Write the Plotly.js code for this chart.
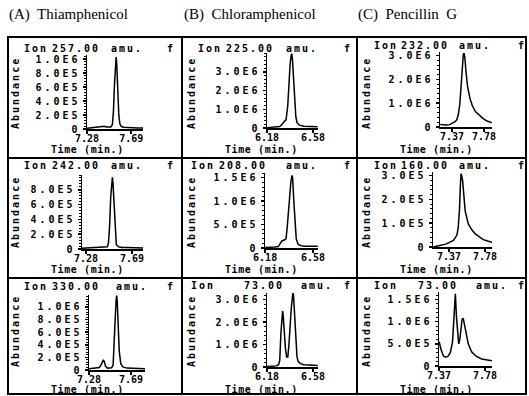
<!DOCTYPE html>
<html><head><meta charset="utf-8">
<script src="https://cdn.plot.ly/plotly-3.0.1.min.js"></script>
<style>
html,body{margin:0;padding:0;background:#fff;}
#chart{width:529px;height:396px;}
text[style*="DejaVu Sans Mono"]{letter-spacing:2px;}
text[style*="monospace"]{letter-spacing:0.6px;}
g[class^="y"][class$="tick"] > text{letter-spacing:3px;}
g[class^="x"][class$="tick"] > text{letter-spacing:0px;}
</style></head><body><div id="chart"></div>
<script>
// ---------- DATA ----------
const headerText = ["(A)  Thiamphenicol", "(B)  Chloramphenicol", "(C)  Pencillin  G"];
const ionMass = ["257.00","225.00","232.00","242.00","208.00","160.00","330.00","73.00","73.00"];
const xTickVals = [[7.28,7.69],[6.18,6.58],[7.37,7.78]];
const xTickText = [["7.28","7.69"],["6.18","6.58"],["7.37","7.78"]];

const yTicksA = [0,2e5,4e5,6e5,8e5,1e6];
const yTextA  = ["0","2.0E5","4.0E5","6.0E5","8.0E5","1.0E6"];
const yTicksA2 = [0,2e5,4e5,6e5,8e5];
const yTextA2  = ["0","2.0E5","4.0E5","6.0E5","8.0E5"];
const yTicksM = [0,1e6,2e6,3e6];
const yTextM  = ["0","1.0E6","2.0E6","3.0E6"];
const yTicksH = [0,5e5,1e6,1.5e6];
const yTextH  = ["0","5.0E5","1.0E6","1.5E6"];
const yTicksC2 = [0,1e5,2e5,3e5];
const yTextC2  = ["0","1.0E5","2.0E5","3.0E5"];

// Thiamphenicol, ion 257
const tA1 = [7.28,7.32,7.36,7.40,7.44,7.46,7.48,7.50,7.515,7.525,7.535,7.545,7.550,7.555,7.565,7.575,7.585,7.60,7.62,7.66,7.70,7.75,7.80];
const aA1 = [1e4,1.5e4,2e4,2.5e4,4e4,3e4,2.5e4,3e4,6e4,2.5e5,6.5e5,9.8e5,1.03e6,9.5e5,5.5e5,2.0e5,7e4,3.5e4,2.5e4,2e4,2e4,1.5e4,1.5e4];
// Chloramphenicol, ion 225
const tB1 = [6.18,6.22,6.26,6.29,6.31,6.33,6.345,6.36,6.37,6.38,6.39,6.395,6.40,6.41,6.42,6.43,6.44,6.46,6.50,6.55,6.60,6.62];
const aB1 = [2e4,3e4,4e4,8e4,2e5,3.5e5,4.5e5,1.2e6,2.4e6,3.4e6,3.9e6,3.95e6,3.7e6,2.6e6,1.4e6,6e5,3e5,1.5e5,1e5,8e4,7e4,7e4];
// Pencillin G, ion 232
const tC1 = [7.22,7.26,7.30,7.34,7.38,7.41,7.43,7.45,7.47,7.49,7.505,7.515,7.525,7.535,7.55,7.57,7.60,7.63,7.67,7.72,7.77,7.82,7.88];
const aC1 = [1e5,8e4,8e4,1e5,1.5e5,2.2e5,3e5,5e5,9.5e5,1.9e6,2.7e6,3.05e6,3.1e6,2.9e6,2.3e6,1.7e6,1.2e6,9e5,6.5e5,4.8e5,3.5e5,2.5e5,1.8e5];
// Thiamphenicol, ion 242
const tA2 = [7.244,7.30,7.36,7.42,7.45,7.47,7.48,7.49,7.50,7.51,7.515,7.52,7.53,7.54,7.55,7.57,7.60,7.65,7.70,7.75,7.788];
const aA2 = [1e4,1.5e4,1.5e4,2e4,2e4,3e4,8e4,3.0e5,7.0e5,9.5e5,9.7e5,9.0e5,5.5e5,2.0e5,6e4,3e4,2e4,2e4,1.5e4,1.5e4,1.5e4];
// Chloramphenicol, ion 208
const tB2 = [6.18,6.22,6.26,6.29,6.30,6.32,6.34,6.355,6.365,6.375,6.385,6.395,6.405,6.41,6.42,6.43,6.44,6.455,6.48,6.52,6.56,6.62];
const aB2 = [1e4,1e4,2e4,3e4,8e4,1.5e5,1.7e5,2e5,4.5e5,8e5,1.1e6,1.4e6,1.55e6,1.5e6,1.0e6,5e5,2e5,8e4,5e4,4e4,4e4,4e4];
// Pencillin G, ion 160
const tC2 = [7.19,7.24,7.29,7.34,7.38,7.42,7.44,7.46,7.475,7.49,7.50,7.508,7.515,7.525,7.54,7.555,7.59,7.63,7.67,7.72,7.76,7.81,7.86];
const aC2 = [0,3e3,8e3,1.3e4,2e4,2.8e4,3.8e4,5e4,8e4,1.6e5,2.6e5,3.08e5,3.0e5,2.8e5,2.0e5,1.5e5,9.7e4,7.2e4,5.5e4,4e4,3.1e4,2.5e4,2e4];
// Thiamphenicol, ion 330
const tA3 = [7.28,7.32,7.36,7.38,7.40,7.41,7.42,7.43,7.44,7.46,7.48,7.50,7.515,7.525,7.535,7.545,7.55,7.555,7.565,7.575,7.59,7.61,7.65,7.70,7.75,7.80,7.827];
const aA3 = [2e4,2.5e4,3e4,4e4,9e4,1.4e5,1.6e5,1.3e5,6e4,3e4,3e4,3.5e4,8e4,3.5e5,8.0e5,1.12e6,1.18e6,1.1e6,7.0e5,3.0e5,1.0e5,5e4,3e4,2.5e4,2e4,2e4,2e4];
// Chloramphenicol, ion 73
const tB3 = [6.18,6.22,6.26,6.28,6.29,6.30,6.31,6.315,6.32,6.33,6.34,6.35,6.36,6.37,6.38,6.39,6.40,6.405,6.41,6.42,6.43,6.44,6.45,6.47,6.50,6.55,6.60,6.62];
const aB3 = [2e4,3e4,5e4,1e5,3e5,1.5e6,2.4e6,2.5e6,2.3e6,1.5e6,8e5,4.5e5,4.5e5,1.0e6,2.0e6,2.6e6,3.1e6,3.3e6,3.2e6,2.2e6,1.0e6,4.5e5,2.5e5,1.5e5,1e5,8e4,7e4,7e4];
// Pencillin G, ion 73
const tC3 = [7.37,7.39,7.41,7.43,7.45,7.47,7.49,7.50,7.51,7.515,7.525,7.535,7.545,7.555,7.565,7.575,7.585,7.595,7.61,7.63,7.66,7.70,7.75,7.80,7.84];
const aC3 = [5.5e5,3.5e5,2.2e5,2e5,2.2e5,3e5,5.5e5,1.0e6,1.55e6,1.63e6,1.1e6,6.5e5,5e5,6e5,8.5e5,1.05e6,1.08e6,9.5e5,7e5,5e5,3.2e5,2.2e5,1.6e5,1.3e5,1.2e5];

// ---------- LAYOUT GEOMETRY (pixels) ----------
const W = 529, H = 396;
const panels = [
 {t:tA1,a:aA1,yt:yTicksA, ytx:yTextA, x0:87, x1:143,top:55, bot:129,xr:[7.279,7.80], yr:[0,1.06e6],minor:4e4,  ion:[23,51,110,166], iy:48},
 {t:tB1,a:aB1,yt:yTicksM, ytx:yTextM, x0:267,x1:318,top:53, bot:128,xr:[6.179,6.623],yr:[0,4.0e6], minor:2e5,  ion:[197,225,285,343],iy:48},
 {t:tC1,a:aC1,yt:yTicksM, ytx:yTextM, x0:440,x1:492,top:52, bot:127,xr:[7.216,7.883],yr:[0,3.15e6],minor:2e5,  ion:[373,400,458,517],iy:46},
 {t:tA2,a:aA2,yt:yTicksA2,ytx:yTextA2,x0:82, x1:143,top:175,bot:249,xr:[7.244,7.788],yr:[0,1.0e6], minor:4e4,  ion:[23,51,110,166], iy:166},
 {t:tB2,a:aB2,yt:yTicksH, ytx:yTextH, x0:265,x1:318,top:173,bot:248,xr:[6.179,6.622],yr:[0,1.6e6], minor:1e5,  ion:[190,218,285,343],iy:165},
 {t:tC2,a:aC2,yt:yTicksC2,ytx:yTextC2,x0:433,x1:492,top:172,bot:247,xr:[7.188,7.86], yr:[0,3.15e5],minor:2e4,  ion:[373,400,458,517],iy:165},
 {t:tA3,a:aA3,yt:yTicksA, ytx:yTextA, x0:89, x1:145,top:295,bot:370,xr:[7.279,7.827],yr:[0,1.19e6],minor:4e4,  ion:[23,51,115,166], iy:286},
 {t:tB3,a:aB3,yt:yTicksM, ytx:yTextM, x0:267,x1:318,top:293,bot:367,xr:[6.179,6.623],yr:[0,3.3e6], minor:2e5,  ion:[190,243,300,343],iy:285},
 {t:tC3,a:aC3,yt:yTicksH, ytx:yTextH, x0:439,x1:492,top:292,bot:366,xr:[7.369,7.842],yr:[0,1.67e6],minor:1e5,  ion:[373,417,475,517],iy:285}
];
const colLeft = [8,183,357];
const abX = [15,191,366];
const rowAbY = [93,212,331];
const timeX = [87,261,436];
const rowTimeY = [149,269,389];
const frame = {l:8,r:526,t:37,b:394,v:[182,357],h:[158,278]};

const px = x => x / W;
const py = y => 1 - y / H;
const monoFont = {family:'DejaVu Sans Mono', size:10, color:'#000', weight:'bold'};
const yTickFont = {family:'DejaVu Sans Mono', size:10, color:'#000', weight:'bold'};
const xTickFont = {family:'DejaVu Sans Mono', size:10, color:'#000', weight:'bold'};
const timeFont = {family:'DejaVu Sans Mono, monospace', size:10, color:'#000', weight:'bold'};

const data = [];
const layout = {
  width:W, height:H, margin:{l:0,r:0,t:0,b:0},
  paper_bgcolor:'#fff', plot_bgcolor:'#fff', showlegend:false,
  annotations:[], shapes:[]
};

panels.forEach((p,i)=>{
  const n = i===0 ? '' : String(i+1);
  const col = i % 3, row = Math.floor(i/3);
  data.push({x:p.t, y:p.a, type:'scatter', mode:'lines', xaxis:'x'+n, yaxis:'y'+n,
             line:{color:'#000', width:1.5}, hoverinfo:'skip'});
  layout['xaxis'+n] = {domain:[px(p.x0),px(p.x1)], anchor:'y'+n, range:p.xr,
    tickmode:'array', tickvals:xTickVals[col], ticktext:xTickText[col], tickangle:0,
    ticklabelstandoff:-4,
    showline:true, linecolor:'#000', linewidth:1.5, ticks:'outside', ticklen:3, tickwidth:1.5, tickcolor:'#000',
    showgrid:false, zeroline:false, tickfont:xTickFont, fixedrange:true};
  layout['yaxis'+n] = {domain:[py(p.bot),py(p.top)], anchor:'x'+n, range:p.yr,
    tickmode:'array', tickvals:p.yt, ticktext:p.ytx,
    showline:true, linecolor:'#000', linewidth:1.5, ticks:'outside', ticklen:3, tickwidth:1.5, tickcolor:'#000',
    minor:{tickmode:'linear', tick0:0, dtick:p.minor, ticks:'outside', ticklen:2, tickwidth:1, tickcolor:'#000', showgrid:false},
    showgrid:false, zeroline:false, tickfont:yTickFont, fixedrange:true};
  const pieces = ['Ion', ionMass[i], 'amu.', 'f'];
  pieces.forEach((s,k)=>{
    layout.annotations.push({text:s, xref:'paper', yref:'paper', x:px(p.ion[k]), y:py(p.iy),
      xanchor:'left', yanchor:'middle', showarrow:false, font:monoFont, borderpad:0});
  });
  layout.annotations.push({text:'Abundance', xref:'paper', yref:'paper', x:px(abX[col]), y:py(rowAbY[row]),
      xanchor:'center', yanchor:'middle', textangle:-90, showarrow:false, font:monoFont, borderpad:0});
  layout.annotations.push({text:'Time (min.)', xref:'paper', yref:'paper', x:px(timeX[col]), y:py(rowTimeY[row]),
      xanchor:'center', yanchor:'middle', showarrow:false, font:timeFont, borderpad:0});
});

headerText.forEach((s,c)=>{
  layout.annotations.push({text:s, xref:'paper', yref:'paper', x:px(colLeft[c]), y:py(15),
    xanchor:'left', yanchor:'middle', showarrow:false, borderpad:0,
    font:{family:'Liberation Serif', size:15, color:'#000'}});
});

const ln = {color:'#000', width:2};
layout.shapes.push({type:'rect', xref:'paper', yref:'paper', x0:px(frame.l), x1:px(frame.r), y0:py(frame.b), y1:py(frame.t), line:ln});
frame.v.forEach(v=>layout.shapes.push({type:'line', xref:'paper', yref:'paper', x0:px(v), x1:px(v), y0:py(frame.b), y1:py(frame.t), line:ln}));
frame.h.forEach(h=>layout.shapes.push({type:'line', xref:'paper', yref:'paper', x0:px(frame.l), x1:px(frame.r), y0:py(h), y1:py(h), line:ln}));

Plotly.newPlot('chart', data, layout, {displayModeBar:false, staticPlot:true});
</script></body></html>
